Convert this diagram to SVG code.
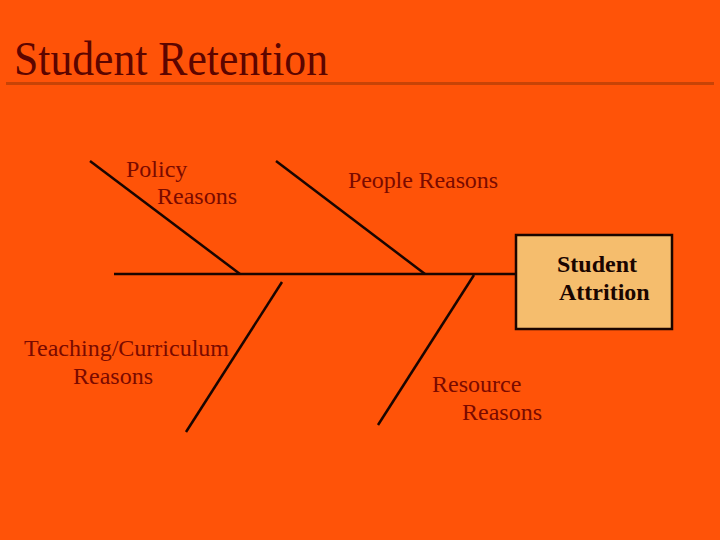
<svg xmlns="http://www.w3.org/2000/svg" width="720" height="540" viewBox="0 0 720 540">
<style>
.lbl{font-family:"Liberation Serif","Times New Roman",serif;font-size:24px;fill:#7a0a00}
.bone{stroke:#1a0500;stroke-width:2.5;fill:none}
.box{font-family:"Liberation Serif","Times New Roman",serif;font-size:24px;font-weight:bold;fill:#1a0500}
</style>
<rect width="720" height="540" fill="#ff5308"/>
<g id="title">
<text x="14" y="75" font-family="Liberation Serif, Times New Roman, serif" font-size="48" fill="#5c0500" textLength="314" lengthAdjust="spacingAndGlyphs">Student Retention</text>
<rect x="6" y="82" width="708" height="3" fill="#c84306"/>
</g>
<g id="connectors">
<line class="bone" x1="114" y1="274" x2="516" y2="274"/>
<line class="bone" x1="90" y1="161" x2="240" y2="274"/>
<line class="bone" x1="276" y1="161" x2="425" y2="274"/>
<line class="bone" x1="282" y1="282" x2="186" y2="432"/>
<line class="bone" x1="474" y1="275" x2="378" y2="425"/>
</g>
<g id="policy">
<text class="lbl" x="126" y="177">Policy</text>
<text class="lbl" x="157" y="204">Reasons</text>
</g>
<g id="people">
<text class="lbl" x="348" y="188" textLength="150">People Reasons</text>
</g>
<g id="teaching">
<text class="lbl" x="24" y="356" textLength="205">Teaching/Curriculum</text>
<text class="lbl" x="73" y="384">Reasons</text>
</g>
<g id="resource">
<text class="lbl" x="432" y="392">Resource</text>
<text class="lbl" x="462" y="420">Reasons</text>
</g>
<g id="attrition">
<rect x="516" y="235" width="156" height="94" fill="#f5bd6d" stroke="#1a0500" stroke-width="2.5"/>
<text class="box" x="557" y="272">Student</text>
<text class="box" x="559" y="300">Attrition</text>
</g>
</svg>
